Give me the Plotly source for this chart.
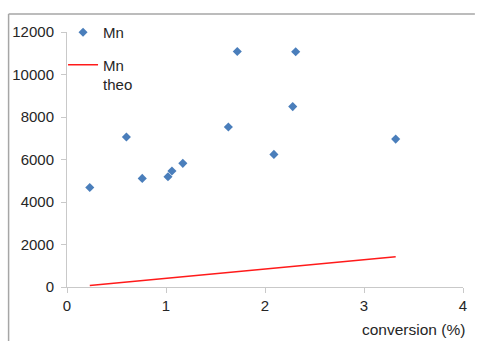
import plotly.graph_objects as go

# Measured number-average molar mass vs. monomer conversion
conversion = [0.23, 0.60, 0.76, 1.02, 1.06, 1.17, 1.63, 1.72, 2.09, 2.28, 2.31, 3.32]
mn = [4680, 7060, 5110, 5190, 5460, 5820, 7530, 11080, 6240, 8490, 11070, 6960]

# Theoretical Mn line (endpoints)
conv_theo = [0.23, 3.32]
mn_theo = [75, 1420]

x_ticks = [0, 1, 2, 3, 4]
y_ticks = [0, 2000, 4000, 6000, 8000, 10000, 12000]
y_labels = [str(v) for v in y_ticks]

FONT = "Liberation Sans, Arial, sans-serif"
TEXT = "#262626"
AXIS = "#c9c9c9"
FRAME = "#a6a6a6"

fig = go.Figure()
fig.add_trace(go.Scatter(
    x=conversion, y=mn, mode="markers", name="Mn", legendgroup="a",
    marker=dict(symbol="diamond", size=7, color="#4a7ebb"),
))
fig.add_trace(go.Scatter(
    x=conv_theo, y=mn_theo, mode="lines", name="Mn<br>theo", legendgroup="b",
    line=dict(color="#ff1a1a", width=1.5),
))

W, H = 477, 341
L, R, T, B = 67, 10, 32, 54
pw, ph = W - L - R, H - T - B

def px_x(p):
    return (p - L) / pw

def px_y(p):
    return 1 - (p - T) / ph

# outer frame edges (top and left)
fig.add_shape(type="line", xref="paper", yref="paper",
              x0=px_x(8), x1=px_x(W + 2), y0=px_y(14), y1=px_y(14),
              line=dict(color=FRAME, width=1.5))
fig.add_shape(type="line", xref="paper", yref="paper",
              x0=px_x(8), x1=px_x(8), y0=px_y(14), y1=px_y(H + 2),
              line=dict(color=FRAME, width=1.5))

fig.add_annotation(text="conversion (%)", xref="paper", yref="paper",
                   x=px_x(471), y=px_y(329), xanchor="right", yanchor="middle",
                   showarrow=False, font=dict(size=15.5, color=TEXT, family=FONT))

fig.update_layout(
    width=W, height=H,
    margin=dict(l=L, r=R, t=T, b=B),
    paper_bgcolor="white", plot_bgcolor="white",
    font=dict(family=FONT, size=15, color=TEXT),
    showlegend=True,
    legend=dict(x=px_x(63), y=px_y(16), xanchor="left", yanchor="top",
                bgcolor="rgba(0,0,0,0)", font=dict(size=15, color=TEXT),
                valign="top", itemwidth=30, traceorder="grouped",
                tracegroupgap=10),
    xaxis=dict(range=[0, 4], tickvals=x_ticks, showgrid=False, zeroline=False,
               showline=True, linecolor=AXIS, linewidth=1,
               ticks="outside", ticklen=5, tickcolor=AXIS),
    yaxis=dict(range=[0, 12000], tickvals=y_ticks, ticktext=y_labels,
               showgrid=False, zeroline=False,
               showline=True, linecolor=AXIS, linewidth=1,
               ticks="outside", ticklen=5, tickcolor=AXIS,
               ticklabelstandoff=4),
)

fig.write_html("out.html")
